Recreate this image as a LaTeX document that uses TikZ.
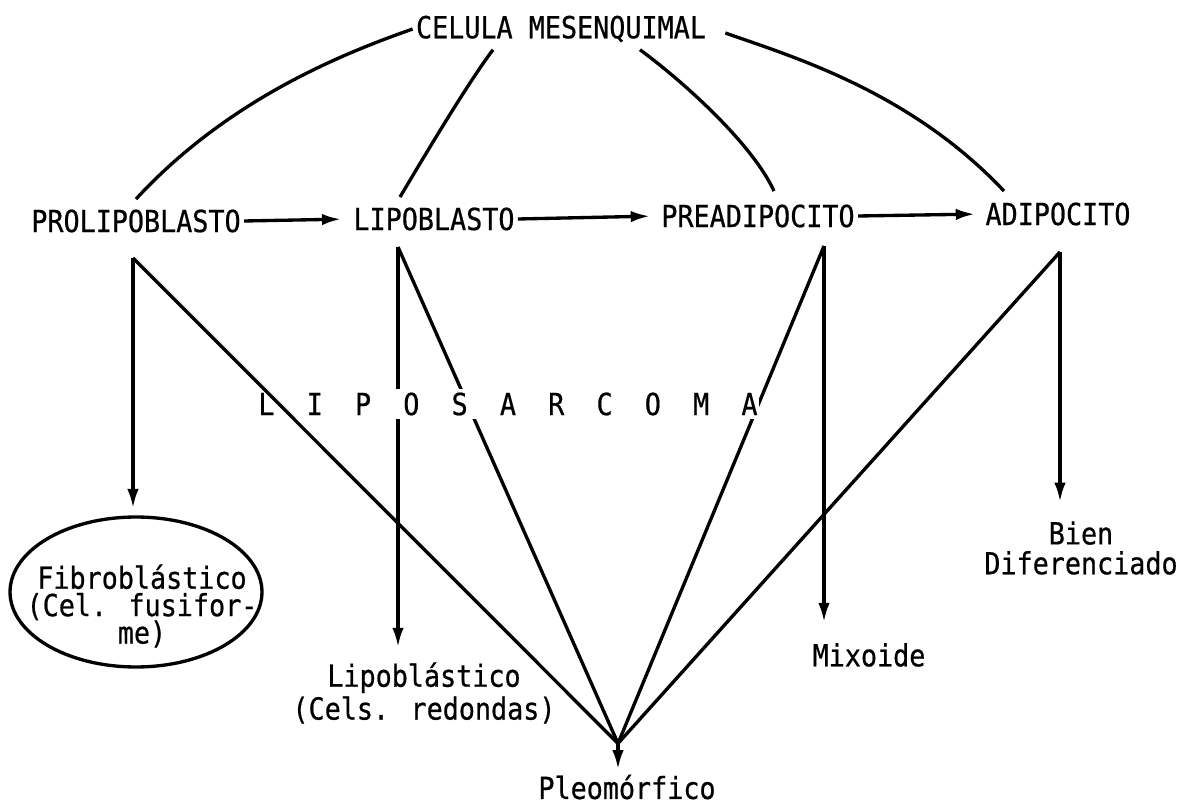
\documentclass[tikz,border=0pt]{standalone}
\usepackage{fontspec}
\setmainfont{DejaVu Sans Mono}[FakeStretch=0.88,FakeBold=0.6]
\usepackage{tikz}
\usetikzlibrary{shapes.geometric,arrows.meta,positioning,calc}

\begin{document}
\begin{tikzpicture}[x=0.02cm,y=-0.02cm,line width=1.9pt,font=\fontsize{17.3}{17}\selectfont]
  \tikzstyle{cell}=[inner xsep=1pt,inner ysep=5pt]
  \tikzstyle{kind}=[inner sep=2pt,align=center]
  \tikzstyle{arr}=[-{Latex[length=11pt,width=6.5pt]}]
  \useasboundingbox (0,0) rectangle (1187,807);
  % celula de origen y estadios
  \node[cell] (celula) at (561,29) {CELULA MESENQUIMAL};
  \node[cell] (prolipo) at (136,221) {PROLIPOBLASTO};
  \node[cell] (lipob) at (434,219) {LIPOBLASTO};
  \node[cell] (preadip) at (758,216) {PREADIPOCITO};
  \node[cell] (adipo) at (1058,214) {ADIPOCITO};
  % tipos de liposarcoma
  \node[ellipse,draw,minimum width=5.04cm,minimum height=3cm,inner sep=0pt] (fibro) at (136,592) {};
  \node[kind,font=\fontsize{17.3}{15.6}\selectfont] (fibrotxt) at (142,606) {Fibroblástico\\(Cel. fusifor-\\me)};
  \node[kind,font=\fontsize{17.3}{18.7}\selectfont] (lipobl) at (424,693) {Lipoblástico\\(Cels. redondas)};
  \node[kind] (mixo) at (869,655) {Mixoide};
  \node[kind] (bien) at (1081,548) {Bien\\Diferenciado};
  \node[kind] (pleo) at (627,787) {Pleomórfico};
  % puntos de salida
  \coordinate (prolipoB) at ($(prolipo.south)+(-3,15)$);
  \coordinate (lipobB) at ($(lipob.south)+(-36,6)$);
  \coordinate (preadipB) at ($(preadip.south)+(66,8)$);
  \coordinate (adipoB) at ($(adipo.south)+(2,16)$);
  \coordinate (conv) at ($(pleo.north)+(-9,-26)$);
  % arcos desde la celula mesenquimal
  \draw (celula.west) .. controls +(-65,23) and +(94,-102) .. (prolipo.north);
  \draw ($(celula.south)+(-68,-3)$) .. controls +(-25,33) and +(25,-42) .. ($(lipob.north)+(-34,0)$);
  \draw ($(celula.south)+(79,-3)$) .. controls +(50,37) and +(-20,-44) .. ($(preadip.north)+(16,-3)$);
  \draw ($(celula.east)+(16,4)$) .. controls +(65,23) and +(-94,-100) .. ($(adipo.north)+(-54,-1)$);
  % maduracion
  \draw[arr,shorten >=5pt] (prolipo.east) -- (lipob.west);
  \draw[arr,shorten >=4.5pt] (lipob.east) -- (preadip.west);
  \draw[arr,shorten >=4pt] (preadip.east) -- (adipo.west);
  % ramas hacia los tipos
  \draw[arr,shorten >=4pt] (prolipoB) -- (prolipoB |- fibro.north);
  \draw[arr,shorten >=5.7pt] (lipobB) -- (lipobB |- lipobl.north);
  \draw[arr,shorten >=9pt] (preadipB) -- (preadipB |- mixo.north);
  \draw[arr,shorten >=8pt] (adipoB) -- (adipoB |- bien.north);
  \draw (lipobB) -- (conv);
  \draw (preadipB) -- (conv);
  \draw (adipoB) -- (conv);
  \node[fill=white,inner xsep=1pt,inner ysep=2pt] (lipos) at (508,404) {L\ \ I\ \ P\ \ O\ \ S\ \ A\ \ R\ \ C\ \ O\ \ M\ \ A};
  \draw (prolipoB) -- (conv);
  \draw[arr] (conv) -- (conv |- pleo.north);
\end{tikzpicture}
\end{document}
